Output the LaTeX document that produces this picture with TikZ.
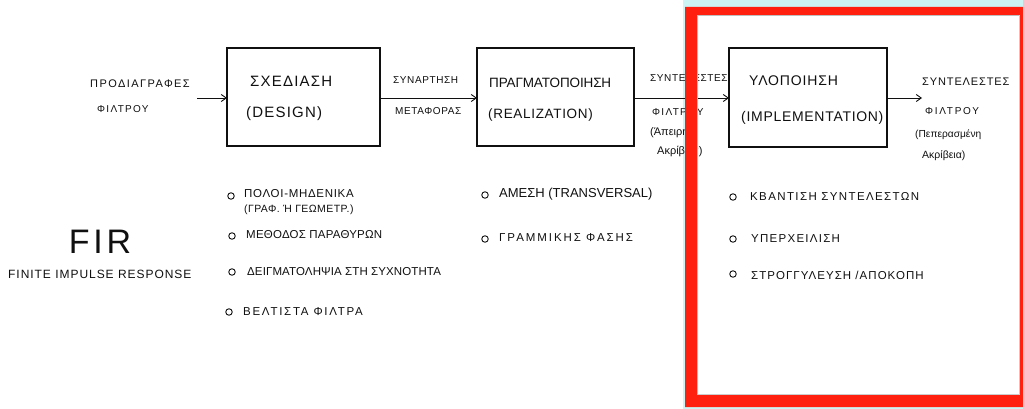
\documentclass[tikz,border=0pt]{standalone}
\usepackage{fontspec}
\setmainfont{Liberation Sans}
\usetikzlibrary{arrows.meta}
\definecolor{framered}{HTML}{FF2010}
\definecolor{framecyan}{HTML}{CDF4F4}
\definecolor{ink}{HTML}{101010}
\newcommand{\spaced}[2]{\fontsize{#1}{#1}\selectfont\addfontfeatures{LetterSpace=#2}}
\begin{document}
\begin{tikzpicture}[x=1pt,y=-1pt,
  stage/.style={draw=ink, line width=1.1pt, inner sep=0pt, outer sep=0pt},
  flow/.style={draw=ink, line width=0.9pt, -{Straight Barb[length=5pt,width=7pt]}},
  ttl/.style={anchor=west, inner sep=0pt, text=ink, font=\spaced{15}{8}},
  lbl/.style={anchor=west, inner sep=0pt, text=ink, font=\spaced{10}{6}},
  note/.style={anchor=west, inner sep=0pt, text=ink, font=\fontsize{11}{13}\selectfont},
  item/.style={anchor=west, inner sep=0pt, text=ink, font=\spaced{11.5}{6}},
  dot/.style={circle, draw=ink, line width=0.9pt, minimum size=6.5pt, inner sep=0pt}]
\useasboundingbox (0,0) rectangle (1023,409);
\fill[white] (0,0) rectangle (1023,409);
% highlight frame background
\fill[framecyan] (683,0) rectangle (1023,409);
\fill[white] (697,15) rectangle (1020,395);

% processing chain
\node[stage, minimum width=153pt, minimum height=98pt] (design) at (303.5,97) {};
\node[stage, minimum width=157pt, minimum height=98pt] (real) at (555.5,97) {};
\node[stage, minimum width=158pt, minimum height=99pt] (impl) at (808,97.5) {};

\node[ttl] (t1a) at (250,81) {ΣΧΕΔΙΑΣΗ};
\node[ttl] (t1b) at (246,114) {(DESIGN)};
\node[ttl, font=\spaced{13.5}{-1}] (t2a) at (489,83) {ΠΡΑΓΜΑΤΟΠΟΙΗΣΗ};
\node[ttl, font=\spaced{13.5}{5}] (t2b) at (488,115) {(REALIZATION)};
\node[ttl, font=\spaced{14}{6}] (t3a) at (749,81) {ΥΛΟΠΟΙΗΣΗ};
\node[ttl, font=\spaced{14}{5}] (t3b) at (741,118) {(IMPLEMENTATION)};

% input and output
\coordinate (src) at (197,98);
\coordinate (dst) at (922,98);
\draw[flow] (src) -- (src -| design.west);
\draw[flow] (design.east |- src) -- (real.west |- src);
\draw[flow] (real.east |- src) -- (impl.west |- src);
\draw[flow] (impl.east |- dst) -- (dst);

\node[lbl, font=\spaced{11}{13}] (in1) at (90,84) {ΠΡΟΔΙΑΓΡΑΦΕΣ};
\node[lbl, font=\spaced{10}{13}] (in2) at (97,109) {ΦΙΛΤΡΟΥ};
\node[lbl] (m1) at (393,80) {ΣΥΝΑΡΤΗΣΗ};
\node[lbl] (m2) at (395,111) {ΜΕΤΑΦΟΡΑΣ};
\node[lbl] (c1) at (650,78) {ΣΥΝΤΕΛΕΣΤΕΣ};
\node[lbl, font=\spaced{10}{13}] (c2) at (652,112) {ΦΙΛΤΡΟΥ};
\node[note] (c3) at (650,133) {(Άπειρης};
\node[note] (c4) at (657,151) {Ακρίβεια)};
\node[lbl, font=\spaced{11}{8}] (o1) at (922,82) {ΣΥΝΤΕΛΕΣΤΕΣ};
\node[lbl, font=\spaced{10}{17}] (o2) at (925,111) {ΦΙΛΤΡΟΥ};
\node[note, font=\fontsize{10.2}{12}\selectfont] (o3) at (915,135) {(Πεπερασμένη};
\node[note, font=\fontsize{10.5}{12}\selectfont] (o4) at (922,156) {Ακρίβεια)};

% filter type
\node[inner sep=0pt, text=ink, font=\spaced{34}{11}] (fir) at (100,242) {FIR};
\node[item, font=\spaced{12}{8}] (firtxt) at (8,274) {FINITE IMPULSE RESPONSE};

% design methods
\node[dot] (d1) at (231,196) {};
\node[item] (e1) at (244,194) {ΠΟΛΟΙ-ΜΗΔΕΝΙΚΑ};
\node[item, font=\spaced{10.5}{4}] (e1b) at (244,210) {(ΓΡΑΦ. Ή ΓΕΩΜΕΤΡ.)};
\node[dot] (d2) at (232,236) {};
\node[item, font=\spaced{11.5}{2}] (e2) at (246,235) {ΜΕΘΟΔΟΣ ΠΑΡΑΘΥΡΩΝ};
\node[dot] (d3) at (232,272) {};
\node[item, font=\spaced{11.5}{1}] (e3) at (247,272) {ΔΕΙΓΜΑΤΟΛΗΨΙΑ ΣΤΗ ΣΥΧΝΟΤΗΤΑ};
\node[dot] (d4) at (229,312) {};
\node[item, font=\spaced{11.5}{15}] (e4) at (243,312) {ΒΕΛΤΙΣΤΑ ΦΙΛΤΡΑ};

% realization structures
\node[dot] (d5) at (485,195) {};
\node[item, font=\spaced{13}{0}] (e5) at (499,194) {ΑΜΕΣΗ (TRANSVERSAL)};
\node[dot] (d6) at (485,239) {};
\node[item, font=\spaced{11.5}{17}] (e6) at (499,238) {ΓΡΑΜΜΙΚΗΣ ΦΑΣΗΣ};

% implementation effects
\node[dot] (d7) at (733,197) {};
\node[item, font=\spaced{11.5}{12}] (e7) at (750,196) {ΚΒΑΝΤΙΣΗ ΣΥΝΤΕΛΕΣΤΩΝ};
\node[dot] (d8) at (733,239) {};
\node[item, font=\spaced{11.5}{11}] (e8) at (751,239) {ΥΠΕΡΧΕΙΛΙΣΗ};
\node[dot] (d9) at (733,274) {};
\node[item, font=\spaced{11.5}{9}] (e9) at (751,275) {ΣΤΡΟΓΓΥΛΕΥΣΗ /ΑΠΟΚΟΠΗ};

% highlight frame
\fill[framered, even odd rule] (685,7) rectangle (1023,407) (697,15) rectangle (1020,395);
\draw[black!25, line width=1pt] (697.5,395) -- (697.5,15.5) -- (1020,15.5);
\draw[black!20, line width=1pt] (697.5,394.5) -- (1019.5,394.5) -- (1019.5,15.5);
\end{tikzpicture}
\end{document}
